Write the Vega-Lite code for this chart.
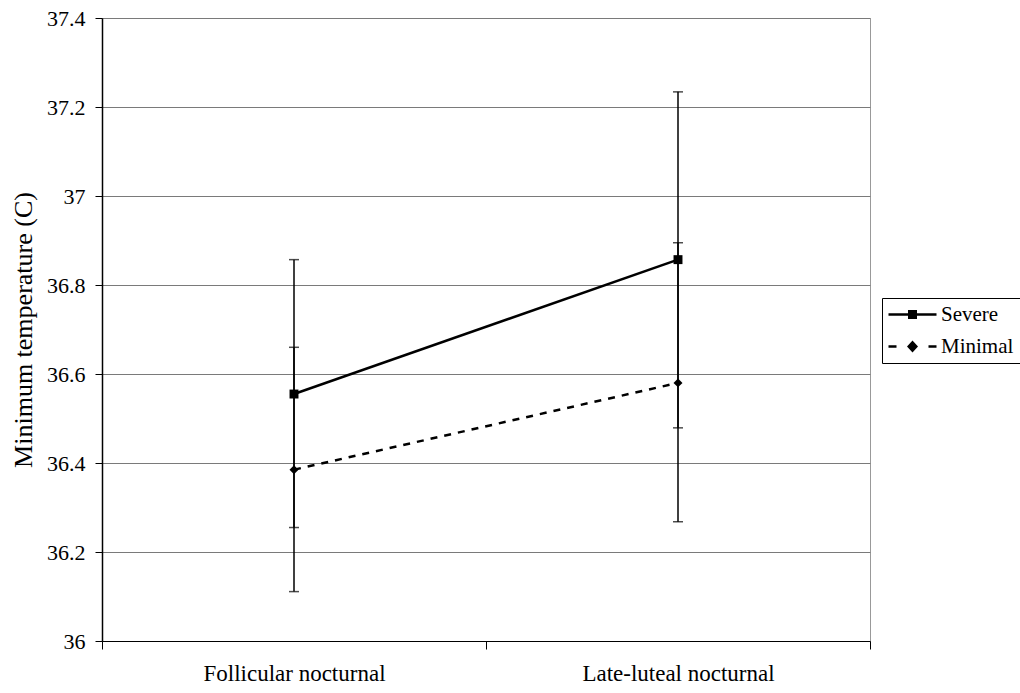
{
  "$schema": "https://vega.github.io/schema/vega-lite/v6.json",
  "width": 768,
  "height": 623,
  "autosize": "none",
  "padding": {"left": 102, "top": 18, "right": 150, "bottom": 52},
  "background": "white",
  "config": {
    "font": "Times New Roman, Liberation Serif, serif",
    "axis": {"labelFont": "Times New Roman, Liberation Serif, serif", "titleFont": "Times New Roman, Liberation Serif, serif"},
    "legend": {"labelFont": "Times New Roman, Liberation Serif, serif"},
    "style": {"guide-label": {"font": "Times New Roman, Liberation Serif, serif"}, "guide-title": {"font": "Times New Roman, Liberation Serif, serif"}},
    "view": {"stroke": "#999999", "strokeWidth": 1}
  },
  "data": {
    "values": [
      {"phase": "Follicular nocturnal", "series": "Severe", "mean": 36.555, "lo": 36.255, "hi": 36.857},
      {"phase": "Late-luteal nocturnal", "series": "Severe", "mean": 36.857, "lo": 36.479, "hi": 37.234},
      {"phase": "Follicular nocturnal", "series": "Minimal", "mean": 36.385, "lo": 36.111, "hi": 36.66},
      {"phase": "Late-luteal nocturnal", "series": "Minimal", "mean": 36.58, "lo": 36.268, "hi": 36.895}
    ]
  },
  "resolve": {"scale": {"shape": "independent"}, "legend": {"shape": "independent"}},
  "encoding": {
    "x": {
      "field": "phase",
      "type": "nominal",
      "sort": ["Follicular nocturnal", "Late-luteal nocturnal"],
      "scale": {"type": "band", "paddingInner": 0, "paddingOuter": 0},
      "axis": {
        "title": null,
        "labelAngle": 0,
        "labelLimit": 0,
        "labelFont": "Times New Roman, Liberation Serif, serif",
        "labelFontSize": 23,
        "labelColor": "black",
        "labelPadding": 13,
        "tickBand": "extent",
        "tickSize": 8,
        "tickColor": "black",
        "domainColor": "black",
        "domainWidth": 1.2,
        "grid": false
      }
    }
  },
  "layer": [
    {
      "mark": {"type": "rule", "color": "black", "strokeWidth": 1.5},
      "encoding": {
        "y": {
          "field": "lo",
          "type": "quantitative",
          "scale": {"domain": [36, 37.4], "nice": false, "zero": false},
          "axis": {
            "title": "Minimum temperature (C)",
            "titleFont": "Times New Roman, Liberation Serif, serif",
            "titleFontSize": 26,
            "titleFontWeight": "normal",
            "titleColor": "black",
            "titlePadding": 10,
            "values": [36, 36.2, 36.4, 36.6, 36.8, 37, 37.2, 37.4],
            "format": "~g",
            "labelFont": "Times New Roman, Liberation Serif, serif",
            "labelFontSize": 22,
            "labelColor": "black",
            "labelPadding": 10,
            "tickSize": 7,
            "tickColor": "black",
            "domainColor": "black",
            "domainWidth": 1.5,
            "grid": true,
            "gridColor": "#7a7a7a",
            "gridWidth": 1
          }
        },
        "y2": {"field": "hi"}
      }
    },
    {
      "mark": {"type": "tick", "color": "black", "size": 10, "thickness": 1.5},
      "encoding": {"y": {"field": "lo", "type": "quantitative"}}
    },
    {
      "mark": {"type": "tick", "color": "black", "size": 10, "thickness": 1.5},
      "encoding": {"y": {"field": "hi", "type": "quantitative"}}
    },
    {
      "transform": [{"filter": "datum.series === 'Severe'"}],
      "mark": {"type": "line", "color": "black", "strokeWidth": 2.5},
      "encoding": {"y": {"field": "mean", "type": "quantitative"}}
    },
    {
      "transform": [{"filter": "datum.series === 'Minimal'"}],
      "mark": {"type": "line", "color": "black", "strokeWidth": 2.5, "strokeDash": [7, 7]},
      "encoding": {"y": {"field": "mean", "type": "quantitative"}}
    },
    {
      "mark": {"type": "point", "filled": true, "color": "black", "size": 80, "opacity": 1},
      "encoding": {
        "y": {"field": "mean", "type": "quantitative"},
        "shape": {
          "field": "series",
          "type": "nominal",
          "scale": {"domain": ["Severe", "Minimal"], "range": ["square", "diamond"]},
          "legend": null
        }
      }
    },
    {
      "mark": {"type": "point", "filled": true, "color": "black", "size": 400, "opacity": 0},
      "encoding": {
        "y": {"field": "mean", "type": "quantitative"},
        "shape": {
          "field": "series",
          "type": "nominal",
          "scale": {
            "domain": ["Severe", "Minimal"],
            "range": [
              "M-1,-0.13H3.8V0.13H-1ZM0.95,-0.45H1.85V0.45H0.95Z",
              "M-1,-0.13H-0.2V0.13H-1ZM3.0,-0.13H3.8V0.13H3.0ZM1.4,-0.6L1.95,0L1.4,0.6L0.85,0Z"
            ]
          },
          "legend": {
            "title": null,
            "orient": "none",
            "legendX": 780,
            "legendY": 280,
            "padding": 6,
            "strokeColor": "black",
            "fillColor": "white",
            "labelFont": "Times New Roman, Liberation Serif, serif",
            "labelFontSize": 21,
            "labelColor": "black",
            "labelOffset": 32,
            "rowPadding": 10,
            "symbolSize": 400,
            "symbolStrokeWidth": 0,
            "symbolFillColor": "black",
            "symbolOpacity": 1
          }
        }
      }
    }
  ]
}
